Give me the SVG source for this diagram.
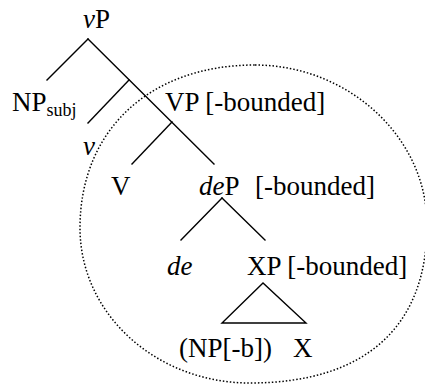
<svg xmlns="http://www.w3.org/2000/svg" width="425" height="385" viewBox="0 0 425 385">
<style>
text{font-family:'Liberation Serif','Times New Roman',serif;font-size:27px;fill:#000}
.i{font-style:italic}
.sub{font-size:18px}
.e{fill:none;stroke:#000;stroke-width:1.4;stroke-linecap:square}
.dot{fill:none;stroke:#000;stroke-width:1.5;stroke-dasharray:1.5 2}
</style>
<rect width="425" height="385" fill="#fff"/>
<g id="domain">
<path class="dot" d="M255,65 C347,65 427,136 427,225 C427,328 364,383 250,383 C156,383 80,314 80,228 C80,130 150,65 255,65 Z"/>
</g>
<g id="connectors">
<path class="e" d="M88,39 L47,80"/>
<path class="e" d="M88,39 L214,164"/>
<path class="e" d="M129,80 L88,123"/>
<path class="e" d="M172,122 L132,164"/>
<path class="e" d="M222,198 L181,240"/>
<path class="e" d="M222,198 L265,240"/>
<path class="e" d="M263,283 L222,323 L306,323 Z"/>
</g>
<g id="vP"><text x="83" y="28"><tspan class="i">v</tspan>P</text></g>
<g id="NPsubj"><text x="12" y="111">NP<tspan class="sub" dy="5">subj</tspan></text></g>
<g id="v"><text class="i" x="83" y="155">v</text></g>
<g id="VP"><text x="165" y="111">VP [-bounded]</text></g>
<g id="V"><text x="111" y="195">V</text></g>
<g id="deP"><text x="199" y="195"><tspan class="i">de</tspan>P</text><text x="255" y="195">[-bounded]</text></g>
<g id="de"><text class="i" x="167" y="275">de</text></g>
<g id="XP"><text x="247" y="275">XP [-bounded]</text></g>
<g id="NPb"><text x="179" y="357">(NP[-b])</text></g>
<g id="X"><text x="293" y="357">X</text></g>
</svg>
